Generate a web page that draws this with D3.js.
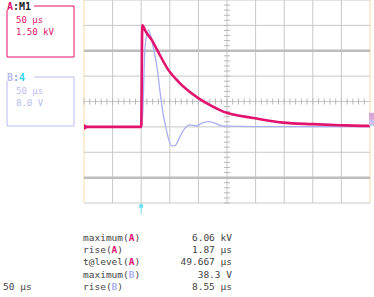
<!DOCTYPE html>
<html>
<head>
<meta charset="utf-8">
<script src="https://cdn.jsdelivr.net/npm/d3@7"></script>
<style>
  body { margin: 0; background: #fff; }
  svg { display: block; }
  text { font-family: "DejaVu Sans Mono", monospace; }
</style>
</head>
<body>
<svg width="374" height="297"></svg>
<script>

// time in µs, channel A in kV, channel B in V
var tA = [-100, -60, -20, 0, 1.9, 8, 18.4, 29.4, 47.4, 64.9, 82.3, 99.8, 117.3, 143.5, 195.5, 248, 300, 347.5, 394.7, 400];
var vA = [0, 0, 0, 0, 6.0, 5.63, 5.14, 4.45, 3.37, 2.68, 2.13, 1.70, 1.34, 0.90, 0.53, 0.25, 0.16, 0.10, 0.06, 0.06];

var tB = [-100, 0, 1.5, 6.6, 12.4, 21.2, 27.1, 32.9, 38.6, 42.8, 47.4, 53.3, 59.1, 67.8, 76.6, 85.3, 97, 105.8, 117.3, 129, 140.7, 200, 300, 400];
var vB = [0, 0, 0, 24.9, 30.6, 24.9, 19.5, 11.1, 3.8, 0.1, -3.56, -5.99, -5.9, -3.06, -0.41, 0.63, 0.32, 1.17, 1.67, 1.17, 0.32, 0.1, 0.1, 0.1];

var timeDivs = [-100, -50, 0, 50, 100, 150, 200, 250, 300, 350, 400];
var voltDivs = [-4.5, -3, -1.5, 0, 1.5, 3, 4.5, 6, 7.5];   // channel A, 1.5 kV/div
var cursorLevels = [4.5, -3];

var measLabels = ["maximum(", "rise(", "t@level(", "maximum(", "rise("];
var measChans = ["A", "A", "A", "B", "B"];
var measValues = ["6.06 kV", "1.87 µs", "49.667 µs", "38.3 V", "8.55 µs"];

var pink = "#e2136e";
var lav = "#a9aef0";

var svg = d3.select("svg");

var x = d3.scaleLinear().domain([-100, 400]).range([84, 370]);
var yA = d3.scaleLinear().domain([-4.5, 7.5]).range([203, 0]);
var yB = d3.scaleLinear().domain([-24, 40]).range([203, 0]);

var grid = svg.append("g");

// vertical grid
grid.selectAll("line.v")
    .data(timeDivs)
    .enter().append("line")
    .attr("x1", function(d) { return x(d); })
    .attr("x2", function(d) { return x(d); })
    .attr("y1", 0)
    .attr("y2", 203)
    .attr("stroke", function(d, i) { return (i == 0 || i == timeDivs.length - 1) ? "#f6dca4" : "#c8c8c8"; })
    .attr("stroke-width", 1);

// horizontal grid
grid.selectAll("line.h")
    .data(voltDivs)
    .enter().append("line")
    .attr("x1", 84)
    .attr("x2", 370)
    .attr("y1", function(d) { return yA(d); })
    .attr("y2", function(d) { return yA(d); })
    .attr("stroke", "#c8c8c8")
    .attr("stroke-width", 1);

// cursors
grid.selectAll("line.c")
    .data(cursorLevels)
    .enter().append("line")
    .attr("x1", 84)
    .attr("x2", 370)
    .attr("y1", function(d) { return yA(d); })
    .attr("y2", function(d) { return yA(d); })
    .attr("stroke", "#bdbdbd")
    .attr("stroke-width", 2.5);

// minor ticks on centre lines
var xMid = x(150), yMid = yA(1.5);
var xTicks = d3.range(-100, 400, 10);
grid.selectAll("line.xt")
    .data(xTicks)
    .enter().append("line")
    .attr("x1", function(d) { return x(d); })
    .attr("x2", function(d) { return x(d); })
    .attr("y1", yMid - 3)
    .attr("y2", yMid + 3)
    .attr("stroke", "#b8b8b8");
var yTicks = d3.range(-4.5, 7.5, 0.3);
grid.selectAll("line.yt")
    .data(yTicks)
    .enter().append("line")
    .attr("x1", xMid - 3)
    .attr("x2", xMid + 3)
    .attr("y1", function(d) { return yA(d); })
    .attr("y2", function(d) { return yA(d); })
    .attr("stroke", "#b8b8b8");

// traces
var lineB = d3.line()
    .x(function(d) { return x(d[0]); })
    .y(function(d) { return yB(d[1]); })
    .curve(d3.curveMonotoneX);
var lineA = d3.line()
    .x(function(d) { return x(d[0]); })
    .y(function(d) { return yA(d[1]); })
    .curve(d3.curveMonotoneX);

svg.append("path")
    .attr("d", lineB(d3.zip(tB, vB)))
    .attr("fill", "none")
    .attr("stroke", lav)
    .attr("stroke-width", 1.3);

svg.append("path")
    .attr("d", lineA(d3.zip(tA, vA)))
    .attr("fill", "none")
    .attr("stroke", pink)
    .attr("stroke-width", 2.6);

// ground markers
svg.append("path")
    .attr("d", "M84," + (yA(0) - 3) + "L89," + yA(0) + "L84," + (yA(0) + 3) + "Z")
    .attr("fill", pink);
svg.append("rect").attr("x", 369).attr("y", yA(0) - 14).attr("width", 5).attr("height", 7).attr("fill", "#d9a6d6");
svg.append("rect").attr("x", 369).attr("y", yA(0) - 7).attr("width", 5).attr("height", 6).attr("fill", "#c8c2ef");

// trigger marker
svg.append("line")
    .attr("x1", x(0)).attr("x2", x(0))
    .attr("y1", 205).attr("y2", 214)
    .attr("stroke", "#6fe0ef").attr("stroke-width", 1);
svg.append("circle")
    .attr("cx", x(0)).attr("cy", 206).attr("r", 2.2)
    .attr("fill", "#6fe0ef");

// channel boxes
function chanBox(top, bottom, col, title, titleCol, lines) {
  svg.append("path")
      .attr("d", "M34," + top + "H74V" + bottom + "H7V" + (top + 4))
      .attr("fill", "none")
      .attr("stroke", col)
      .attr("stroke-width", 1);
  var t = svg.append("text")
      .attr("x", 7).attr("y", top + 4)
      .attr("font-size", 10).attr("font-weight", "bold");
  t.append("tspan").attr("fill", titleCol[0]).text(title[0]);
  t.append("tspan").attr("fill", titleCol[1]).text(title[1]);
  t.append("tspan").attr("fill", titleCol[2]).text(title[2]);
  svg.selectAll(null)
      .data(lines)
      .enter().append("text")
      .attr("x", 16)
      .attr("y", function(d, i) { return top + 17 + i * 12; })
      .attr("font-size", 9)
      .attr("fill", col)
      .text(function(d) { return d; });
}
chanBox(6, 57, pink, ["A", ":", "M1"], [pink, "#333", "#222"], ["50 µs", "1.50 kV"]);
chanBox(77, 126, "#b8bcf2", ["B", ":", "4"], ["#b8bcf2", "#9aa0e8", "#35d6ee"], ["50 µs", "8.0 V"]);

// measurements
var meas = svg.append("g");
measLabels.forEach(function(lab, i) {
  var yy = 241 + i * 12.2;
  var t = meas.append("text").attr("x", 83).attr("y", yy).attr("font-size", 9.5).attr("fill", "#444");
  t.append("tspan").text(lab);
  t.append("tspan")
      .attr("fill", measChans[i] == "A" ? pink : lav)
      .attr("font-weight", "bold")
      .text(measChans[i]);
  t.append("tspan").text(")");
  meas.append("text")
      .attr("x", 232).attr("y", yy)
      .attr("text-anchor", "end")
      .attr("font-size", 9.5)
      .attr("fill", "#444")
      .text(measValues[i]);
});

svg.append("text")
    .attr("x", 3).attr("y", 290)
    .attr("font-size", 9.5)
    .attr("fill", "#444")
    .text("50 µs");

</script>
</body>
</html>
